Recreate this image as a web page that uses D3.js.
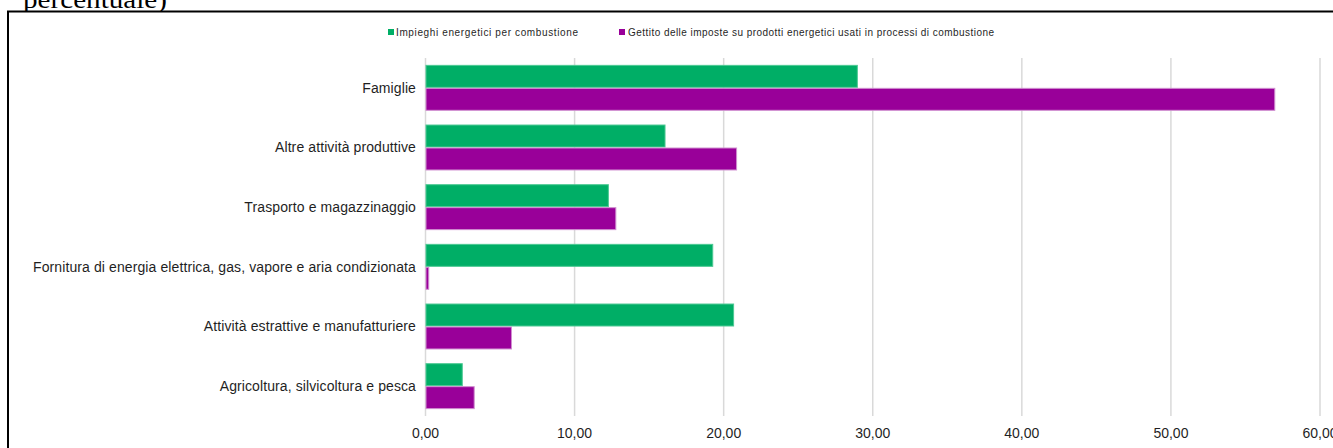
<!DOCTYPE html>
<html>
<head>
<meta charset="utf-8">
<script src="https://cdn.jsdelivr.net/npm/d3@7"></script>
<style>
  html, body { margin: 0; padding: 0; background: #fff; }
  svg { display: block; }
</style>
</head>
<body>
<svg id="chart" width="1333" height="448"></svg>
<script>
// Sector categories, top to bottom
const categories = [
  "Famiglie",
  "Altre attività produttive",
  "Trasporto e magazzinaggio",
  "Fornitura di energia elettrica, gas, vapore e aria condizionata",
  "Attività estrattive e manufatturiere",
  "Agricoltura, silvicoltura e pesca"
];
// Shares (percent) of energy use for combustion
const impieghi = [29.0, 16.1, 12.3, 19.3, 20.7, 2.5];
// Shares (percent) of tax revenue on energy products used in combustion
const gettito = [57.0, 20.9, 12.8, 0.25, 5.8, 3.3];
const seriesNames = [
  "Impieghi energetici  per combustione",
  "Gettito delle imposte su prodotti energetici usati in processi di combustione"
];
const xTicks = [0, 10, 20, 30, 40, 50, 60];

const colors = ["#00ae66", "#990099"];
const strokes = ["#4cc993", "#d08fd0"];

const svg = d3.select("#chart");
const font = "'Liberation Sans', Arial, sans-serif";

// Caption fragment above the frame
svg.append("text")
  .attr("x", 23).attr("y", 8)
  .attr("font-family", "'Liberation Serif', 'Times New Roman', serif")
  .attr("font-size", 26)
  .attr("textLength", 144)
  .attr("lengthAdjust", "spacingAndGlyphs")
  .attr("fill", "#000")
  .text("percentuale)");

// Frame
svg.append("rect")
  .attr("x", 8).attr("y", 11.5)
  .attr("width", 1340).attr("height", 460)
  .attr("fill", "#fff").attr("stroke", "#000").attr("stroke-width", 2);

const x = d3.scaleLinear().domain([0, 60]).range([425.5, 1320]);
const y = d3.scaleBand().domain(categories).range([58, 416])
  .paddingInner(0.23).paddingOuter(0.115);
const ySub = d3.scaleBand().domain([0, 1]).range([0, y.bandwidth()]);

// Vertical gridlines
svg.append("g").selectAll("line").data(xTicks).join("line")
  .attr("x1", d => x(d)).attr("x2", d => x(d))
  .attr("y1", 58).attr("y2", 416)
  .attr("stroke", "#d9d9d9").attr("stroke-width", 1.5);

// Bars
const rows = categories.map((c, i) => ({ c, vals: [impieghi[i], gettito[i]] }));
const groups = svg.append("g").selectAll("g").data(rows).join("g")
  .attr("transform", d => `translate(0,${y(d.c)})`);
groups.selectAll("rect").data(d => d.vals.map((v, k) => ({ v, k }))).join("rect")
  .attr("x", x(0) + 0.5)
  .attr("y", d => ySub(d.k) + 0.5)
  .attr("width", d => Math.max(0, x(d.v) - x(0) - 1))
  .attr("height", ySub.bandwidth() - 1)
  .attr("fill", d => colors[d.k])
  .attr("stroke", d => strokes[d.k])
  .attr("stroke-width", 1);

// Category labels
svg.append("g").selectAll("text").data(categories).join("text")
  .attr("x", 416)
  .attr("y", d => y(d) + y.bandwidth() / 2)
  .attr("dy", "0.35em")
  .attr("text-anchor", "end")
  .attr("font-family", font)
  .attr("font-size", 14)
  .attr("letter-spacing", 0.1)
  .attr("fill", "#1f1f1f")
  .text(d => d);

// X axis tick labels
const fmt = d => d3.format(".2f")(d).replace(".", ",");
svg.append("g").selectAll("text").data(xTicks).join("text")
  .attr("x", d => x(d))
  .attr("y", 433)
  .attr("dy", "0.35em")
  .attr("text-anchor", "middle")
  .attr("font-family", font)
  .attr("font-size", 14)
  .attr("fill", "#1f1f1f")
  .text(fmt);

// Legend
const legendItems = [
  { sx: 388, tx: 396, w: 182 },
  { sx: 619, tx: 628, w: 366 }
];
const lg = svg.append("g").selectAll("g").data(seriesNames).join("g");
lg.append("rect")
  .attr("x", (d, i) => legendItems[i].sx).attr("y", 29)
  .attr("width", 6).attr("height", 6)
  .attr("fill", (d, i) => colors[i]);
lg.append("text")
  .attr("x", (d, i) => legendItems[i].tx).attr("y", 32)
  .attr("dy", "0.35em")
  .attr("font-family", font)
  .attr("font-size", 10)
  .attr("fill", "#1f1f1f")
  .attr("textLength", (d, i) => legendItems[i].w)
  .attr("lengthAdjust", "spacing")
  .text(d => d);
</script>
</body>
</html>
